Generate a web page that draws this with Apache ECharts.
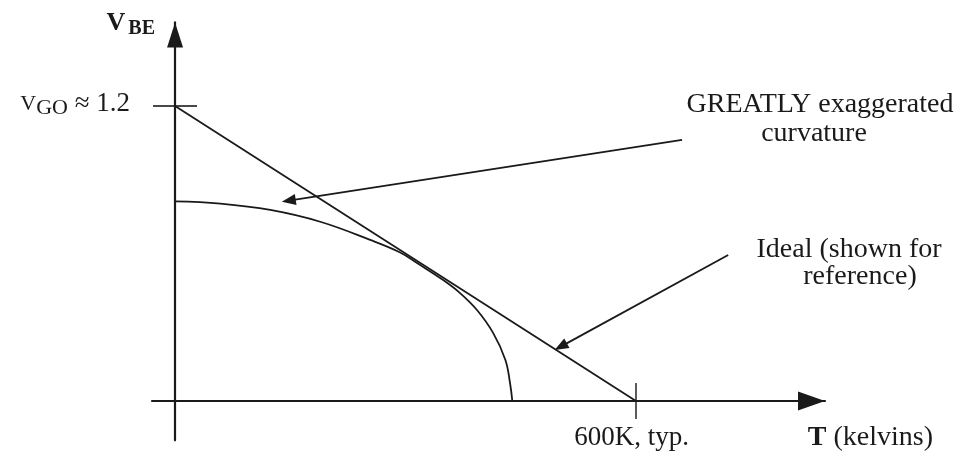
<!DOCTYPE html>
<html>
<head>
<meta charset="utf-8">
<script src="https://cdn.jsdelivr.net/npm/echarts@6/dist/echarts.min.js"></script>
<style>
html,body{margin:0;padding:0;background:#fff;}
#chart{width:958px;height:452px;}
</style>
</head>
<body>
<div id="chart"></div>
<script>
// ---- data ----
var curveT = [0, 59, 124, 189, 254, 293, 315, 349, 371, 393, 414, 430, 436, 439];
var curveV = [0.812, 0.803, 0.777, 0.729, 0.655, 0.604, 0.561, 0.492, 0.439, 0.370, 0.277, 0.167, 0.073, 0];
var idealT = [0, 600];
var idealV = [1.2, 0];
var yTickValues = [1.2];
var xTickValues = [600];
var yTickLabel = 'V_GO ≈ 1.2';
var xTickLabel = '600K, typ.';
var arrowTails = [[660, 1.062], [720, 0.594]];
var arrowHeads = [[148, 0.815], [502, 0.221]];

var FONT = 'Liberation Serif';
var INK = '#1a1a1a';

function pairs(xs, ys) { return xs.map(function (x, i) { return [x, ys[i]]; }); }

var chart = echarts.init(document.getElementById('chart'), null, { renderer: 'canvas' });
var option = {
  animation: false,
  backgroundColor: '#ffffff',
  textStyle: { fontFamily: FONT, color: INK },
  grid: { left: 152, right: 133, top: 22.4, bottom: 11.7, containLabel: false, outerBoundsMode: 'none' },
  xAxis: {
    type: 'value', min: -30, max: 846,
    splitLine: { show: false },
    axisLine: { onZero: true, symbol: ['none', 'triangle'], symbolSize: [19, 27], symbolOffset: [0, -13.5],
      lineStyle: { color: INK, width: 2.2 } },
    axisTick: { show: false },
    axisLabel: { customValues: xTickValues, formatter: function () { return xTickLabel; },
      fontFamily: FONT, fontSize: 27, color: INK, margin: -16, lineHeight: 28, padding: [0, 9, 0, 0] },
    name: '{t|T}{k| (kelvins)}',
    nameLocation: 'end', nameGap: 108,
    nameTextStyle: { align: 'right', verticalAlign: 'top', padding: [22, 0, 0, 0], fontFamily: FONT,
      rich: { t: { fontFamily: FONT, fontSize: 28, fontWeight: 'bold', color: INK, lineHeight: 30 },
              k: { fontFamily: FONT, fontSize: 28, color: INK, lineHeight: 30 } } }
  },
  yAxis: {
    type: 'value', min: -0.16, max: 1.54,
    splitLine: { show: false },
    axisLine: { onZero: true, symbol: ['none', 'triangle'], symbolSize: [16, 25], symbolOffset: [0, -12.5],
      lineStyle: { color: INK, width: 2.2 } },
    axisTick: { show: false },
    axisLabel: { customValues: yTickValues, margin: 22, padding: [0, 0, 4, 0],
      formatter: function () {
        var p = yTickLabel.split(' ');
        return '{a|V}{b|GO}{c| ' + p.slice(1).join(' ') + '}';
      },
      rich: {
        a: { fontFamily: FONT, fontSize: 22, color: INK, lineHeight: 30 },
        b: { fontFamily: FONT, fontSize: 22, color: INK, lineHeight: 18, verticalAlign: 'bottom' },
        c: { fontFamily: FONT, fontSize: 27, color: INK, lineHeight: 30 }
      } },
    name: '{v|V}{s|BE}',
    nameLocation: 'end', nameGap: -1,
    nameTextStyle: { align: 'right', verticalAlign: 'middle', padding: [0, 20, 0, 0],
      rich: { v: { fontFamily: FONT, fontSize: 26, fontWeight: 'bold', color: INK, lineHeight: 30, padding: [0, 3, 0, 0] },
              s: { fontFamily: FONT, fontSize: 20, fontWeight: 'bold', color: INK, lineHeight: 16, verticalAlign: 'bottom' } } }
  },
  series: [
    {
      name: 'curvature', type: 'line', data: pairs(curveT, curveV), smooth: 0.4,
      showSymbol: false, silent: true, lineStyle: { color: INK, width: 1.8 }
    },
    {
      name: 'ideal', type: 'line', data: pairs(idealT, idealV),
      showSymbol: false, silent: true, lineStyle: { color: INK, width: 1.8 },
      markLine: {
        silent: true, symbol: ['none', 'triangle'], symbolSize: [11, 14],
        label: { show: false },
        lineStyle: { type: 'solid', color: INK, width: 1.8 },
        data: arrowTails.map(function (t, i) { return [{ coord: t }, { coord: arrowHeads[i] }]; })
      }
    },
    {
      name: 'yTick', type: 'scatter', silent: true, symbol: 'rect', symbolSize: [44, 1.8],
      itemStyle: { color: INK }, data: yTickValues.map(function (v) { return [0, v]; })
    },
    {
      name: 'xTick', type: 'scatter', silent: true, symbol: 'rect', symbolSize: [1.8, 36],
      itemStyle: { color: INK }, data: xTickValues.map(function (v) { return [v, 0]; })
    }
  ],
  graphic: [
    { type: 'text', x: 820, y: 105, silent: true, style: { text: 'GREATLY exaggerated', font: '28px "Liberation Serif"', fill: INK, align: 'center', verticalAlign: 'middle' } },
    { type: 'text', x: 814, y: 134, silent: true, style: { text: 'curvature', font: '28px "Liberation Serif"', fill: INK, align: 'center', verticalAlign: 'middle' } },
    { type: 'text', x: 849, y: 250, silent: true, style: { text: 'Ideal (shown for', font: '28px "Liberation Serif"', fill: INK, align: 'center', verticalAlign: 'middle' } },
    { type: 'text', x: 860, y: 277, silent: true, style: { text: 'reference)', font: '28px "Liberation Serif"', fill: INK, align: 'center', verticalAlign: 'middle' } }
  ]
};
chart.setOption(option);
</script>
</body>
</html>
